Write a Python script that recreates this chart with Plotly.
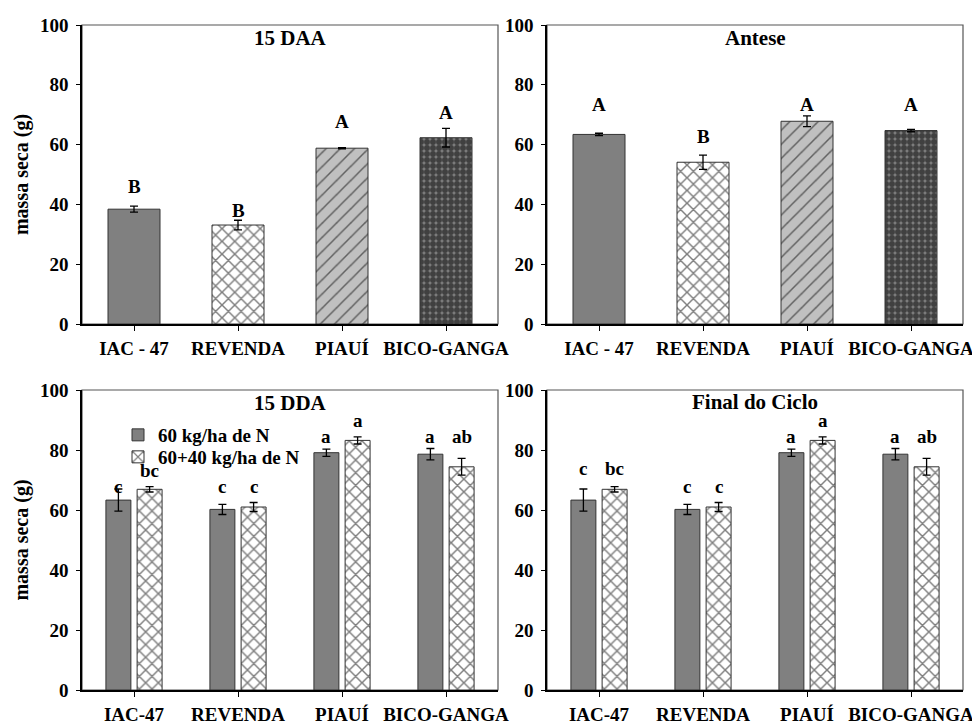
import plotly.graph_objects as go

# ---------------- data ----------------
cats_top = ["IAC - 47", "REVENDA", "PIAUÍ", "BICO-GANGA"]
cats_bottom = ["IAC-47", "REVENDA", "PIAUÍ", "BICO-GANGA"]

daa15_mean = [38.4, 33.1, 58.8, 62.3]
daa15_err = [1.0, 1.6, 0.2, 3.1]
daa15_letters = ["B", "B", "A", "A"]

antese_mean = [63.4, 54.1, 67.8, 64.7]
antese_err = [0.4, 2.4, 1.8, 0.4]
antese_letters = ["A", "B", "A", "A"]

dda15_n60_mean = [63.3, 60.2, 79.1, 78.6]
dda15_n60_err = [3.7, 1.7, 1.2, 1.9]
dda15_n100_mean = [66.9, 61.0, 83.2, 74.4]
dda15_n100_err = [0.9, 1.5, 1.2, 2.8]
dda15_n60_letters = ["c", "c", "a", "a"]
dda15_n100_letters = ["bc", "c", "a", "ab"]

final_n60_mean = [63.3, 60.2, 79.1, 78.6]
final_n60_err = [3.7, 1.7, 1.2, 1.9]
final_n100_mean = [66.9, 61.0, 83.2, 74.4]
final_n100_err = [0.9, 1.5, 1.2, 2.8]
final_n60_letters = ["c", "c", "a", "a"]
final_n100_letters = ["bc", "c", "a", "ab"]

series_names = ["60 kg/ha de N", "60+40 kg/ha de N"]
panel_titles = ["15 DAA", "Antese", "15 DDA", "Final do Ciclo"]
y_title = "massa seca (g)"
y_ticks = [0, 20, 40, 60, 80, 100]

# ---------------- layout helpers (positions of letter labels) ----------------
lbl_y_tl = [46, 38, 67.7, 70.7]
lbl_y_tr = [73.5, 62.7, 73.5, 73.5]
lbl_y_bl_a = [67.8, 67.8, 84.4, 84.4]
lbl_y_bl_b = [73.3, 67.8, 89.8, 84.4]
lbl_y_br_a = [73.7, 67.8, 84.4, 84.4]
lbl_y_br_b = [73.7, 67.8, 89.8, 84.4]

FONT = "Liberation Serif"
W, H = 972, 722

def px_x(p):
    return p / W

def px_y(p):
    return 1 - p / H

dom_x_left = [px_x(82), px_x(498)]
dom_x_right = [px_x(547), px_x(963)]
dom_y_top = [px_y(324), px_y(25)]
dom_y_bot = [px_y(690), px_y(390)]

fig = go.Figure()

# top panels: one trace per bar so each can carry its own fill pattern
top_styles = [
    dict(color="#808080"),
    dict(color="white", pattern=dict(shape="x", fgcolor="black", bgcolor="white",
                                     size=9, solidity=0.3)),
    dict(color="#c0c0c0", pattern=dict(shape="/", fgcolor="black", bgcolor="#c0c0c0",
                                       size=10, solidity=0.15)),
    dict(color="#808080", pattern=dict(shape=".", fgcolor="black", bgcolor="#808080",
                                       size=6, solidity=0.75)),
]

err_style = dict(type="data", color="black", thickness=1.3, width=4, visible=True)

for p, (means, errs, xa, ya) in enumerate([(daa15_mean, daa15_err, "x", "y"),
                                           (antese_mean, antese_err, "x2", "y2")]):
    for i in range(len(cats_top)):
        st = dict(top_styles[i])
        st["line"] = dict(color="#333333", width=1)
        fig.add_trace(go.Bar(
            x=[cats_top[i]], y=[means[i]], xaxis=xa, yaxis=ya, width=0.5,
            offsetgroup=f"top{p}", marker=st,
            error_y=dict(array=[errs[i]], **err_style),
            showlegend=False, hoverinfo="skip"))

# bottom panels: two series
for idx, (m1, e1, m2, e2, xa, ya) in enumerate([
        (dda15_n60_mean, dda15_n60_err, dda15_n100_mean, dda15_n100_err, "x3", "y3"),
        (final_n60_mean, final_n60_err, final_n100_mean, final_n100_err, "x4", "y4")]):
    fig.add_trace(go.Bar(
        x=cats_bottom, y=m1, xaxis=xa, yaxis=ya, name=series_names[0],
        marker=dict(color="#808080", line=dict(color="#333333", width=1)),
        error_y=dict(array=e1, **err_style), legend="legend",
        showlegend=(idx == 0), offsetgroup="a", hoverinfo="skip"))
    fig.add_trace(go.Bar(
        x=cats_bottom, y=m2, xaxis=xa, yaxis=ya, name=series_names[1],
        marker=dict(color="white", line=dict(color="#333333", width=1),
                    pattern=dict(shape="x", fgcolor="black", bgcolor="white",
                                 size=9, solidity=0.3)),
        error_y=dict(array=e2, **err_style), legend="legend2",
        showlegend=(idx == 0), offsetgroup="b", hoverinfo="skip"))

tickfont = dict(family=FONT, size=19, color="black", weight="bold")

def xaxis_cfg(dom, anchor):
    return dict(domain=dom, anchor=anchor, type="category", range=[-0.5, 3.5],
                categoryorder="array", categoryarray=cats_top if anchor in ("y", "y2") else cats_bottom,
                showline=True, linecolor="black", linewidth=2, ticks="outside",
                ticklen=5, tickcolor="black", tickwidth=1, tickfont=tickfont,
                ticklabelstandoff=1, automargin=False,
                showgrid=False, zeroline=False, fixedrange=True)

def yaxis_cfg(dom, anchor, title):
    cfg = dict(domain=dom, anchor=anchor, range=[0, 100], tickvals=y_ticks,
               showline=True, linecolor="black", linewidth=1.5, ticks="outside",
               ticklen=4, tickcolor="black", tickwidth=1, tickfont=tickfont,
               ticklabelstandoff=4, automargin=False,
               showgrid=False, zeroline=False, fixedrange=True)
    if title:
        cfg["title"] = dict(text=y_title, standoff=6,
                            font=dict(family=FONT, size=20, color="black", weight="bold"))
    return cfg

legend_font = dict(family=FONT, size=19, color="black", weight="bold")

fig.update_layout(
    width=W, height=H, margin=dict(l=0, r=0, t=0, b=0, autoexpand=False),
    paper_bgcolor="white", plot_bgcolor="white",
    barmode="group", bargap=0.4, bargroupgap=0.2,
    xaxis=xaxis_cfg(dom_x_left, "y"),
    yaxis=yaxis_cfg(dom_y_top, "x", True),
    xaxis2=xaxis_cfg(dom_x_right, "y2"),
    yaxis2=yaxis_cfg(dom_y_top, "x2", False),
    xaxis3=xaxis_cfg(dom_x_left, "y3"),
    yaxis3=yaxis_cfg(dom_y_bot, "x3", True),
    xaxis4=xaxis_cfg(dom_x_right, "y4"),
    yaxis4=yaxis_cfg(dom_y_bot, "x4", False),
    legend=dict(x=px_x(118), y=px_y(416), xanchor="left", yanchor="top",
                bgcolor="rgba(0,0,0,0)", itemwidth=30, font=legend_font),
    legend2=dict(x=px_x(118), y=px_y(438), xanchor="left", yanchor="top",
                 bgcolor="rgba(0,0,0,0)", itemwidth=30, font=legend_font),
)

# frames (gray top/right)
for xa, ya in [("x", "y"), ("x2", "y2"), ("x3", "y3"), ("x4", "y4")]:
    fig.add_shape(type="rect", xref=f"{xa} domain", yref=f"{ya} domain",
                  x0=0, x1=1, y0=0, y1=1, layer="below",
                  line=dict(color="#555555", width=1.2))

# panel titles
title_font = dict(family=FONT, size=21, color="black", weight="bold")
for txt, cx, cy in [(panel_titles[0], 290, 38), (panel_titles[1], 755, 38),
                    (panel_titles[2], 290, 403), (panel_titles[3], 755, 402)]:
    fig.add_annotation(text=txt, x=px_x(cx), y=px_y(cy), xref="paper", yref="paper",
                       showarrow=False, font=title_font, xanchor="center", yanchor="middle")

# significance letters
lfont = dict(family=FONT, size=19, color="black", weight="bold")

def add_letters(letters, ys, xa, ya, offset):
    for i, (t, yy) in enumerate(zip(letters, ys)):
        fig.add_annotation(text=t, x=i + offset, y=yy, xref=xa, yref=ya, showarrow=False,
                           font=lfont, xanchor="center", yanchor="middle")

add_letters(daa15_letters, lbl_y_tl, "x", "y", 0)
add_letters(antese_letters, lbl_y_tr, "x2", "y2", 0)
add_letters(dda15_n60_letters, lbl_y_bl_a, "x3", "y3", -0.15)
add_letters(dda15_n100_letters, lbl_y_bl_b, "x3", "y3", 0.15)
add_letters(final_n60_letters, lbl_y_br_a, "x4", "y4", -0.15)
add_letters(final_n100_letters, lbl_y_br_b, "x4", "y4", 0.15)

fig.write_html("out.html", config={"displayModeBar": False},
               post_script="document.body.style.margin='0';")
